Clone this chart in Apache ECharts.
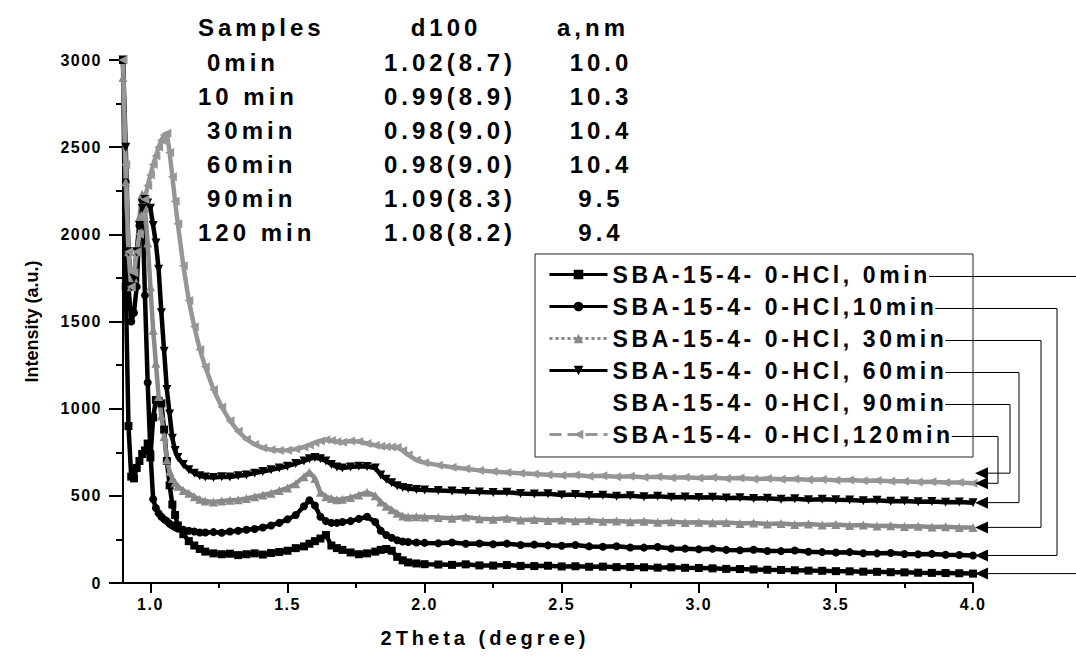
<!DOCTYPE html>
<html><head><meta charset="utf-8">
<script src="https://cdn.jsdelivr.net/npm/echarts@6/dist/echarts.min.js"></script>
<style>html,body{margin:0;padding:0;background:#fff}#main{width:1076px;height:658px}</style>
</head><body><div id="main"></div>
<script>
// ---------------- data ----------------
const twoTheta = [0.90,0.91,0.92,0.93,0.94,0.95,0.96,0.97,0.98,0.99,1.00,1.01,1.02,1.03,1.04,1.05,1.06,1.07,1.08,1.09,1.10,
  1.12,1.14,1.16,1.18,1.20,1.23,1.26,1.29,1.32,1.35,1.38,1.41,1.44,1.47,1.50,1.53,1.56,1.58,1.60,1.62,1.64,1.66,1.68,1.70,
  1.73,1.76,1.79,1.82,1.84,1.86,1.88,1.90,1.92,1.94,1.97,2.00,
  2.05,2.10,2.15,2.20,2.25,2.30,2.35,2.40,2.45,2.50,2.55,2.60,2.65,2.70,2.75,2.80,2.85,2.90,2.95,3.00,
  3.05,3.10,3.15,3.20,3.25,3.30,3.35,3.40,3.45,3.50,3.55,3.60,3.65,3.70,3.75,3.80,3.85,3.90,3.95,4.00];

const seriesNames = ['SBA-15-4- 0-HCl, 0min','SBA-15-4- 0-HCl,10min','SBA-15-4- 0-HCl, 30min',
  'SBA-15-4- 0-HCl, 60min','SBA-15-4- 0-HCl, 90min','SBA-15-4- 0-HCl,120min'];

const int0min = [3000,1700,900,610,600,660,700,740,760,800,720,950,1050,1045,1030,880,700,560,450,390,330,280,240,215,195,180,170,165,168,160,165,170,163,172,178,185,200,210,225,240,255,275,215,200,190,175,165,170,180,190,195,185,150,130,118,112,108,
  106,104,107,101,100,103,98,97,99,95,96,93,94,91,92,90,88,90,87,86,84,81,80,78,76,75,73,71,70,68,67,65,64,62,61,59,58,57,56,54];
const int10min = [3000,2300,1700,1500,1550,1700,2050,2200,1650,1150,750,480,430,400,380,365,355,340,330,320,312,305,300,295,290,290,292,288,295,300,305,310,318,330,345,365,390,440,475,445,380,355,345,345,350,355,368,380,350,300,275,260,245,238,235,232,230,
  228,232,225,227,222,226,218,220,216,214,218,210,208,211,204,203,206,198,197,194,196,190,188,191,184,183,186,179,177,175,177,171,170,172,166,165,167,162,161,158];
const int30min = [2900,2300,1900,1700,1750,1900,2100,2230,2150,1950,1700,1450,1260,1070,960,840,705,640,600,575,555,530,515,495,480,470,465,470,475,478,485,495,505,515,530,545,570,610,635,600,520,495,485,478,480,490,505,520,500,465,440,420,400,385,378,380,378,
  376,372,378,368,366,371,362,364,359,361,357,360,354,356,351,354,349,352,347,349,345,347,342,344,339,341,336,338,333,335,330,332,327,329,324,326,321,323,318,319];
const int60min = [3000,2500,1900,1700,1750,1900,2050,2150,2200,2180,2150,2050,1950,1800,1550,1330,1110,970,830,760,720,680,650,630,615,608,605,610,608,615,620,630,640,650,660,670,685,700,712,720,712,700,680,665,660,665,670,668,660,620,595,575,558,548,542,536,533,
  531,528,525,522,519,521,514,510,512,505,507,502,504,498,500,495,497,492,494,490,492,487,489,484,486,481,483,478,480,477,476,472,474,469,471,466,468,463,465,461];
const int90min = [];
const int120min = [3000,2400,1900,1700,1780,1900,2000,2100,2200,2280,2340,2400,2450,2500,2540,2570,2580,2470,2330,2190,2060,1820,1620,1470,1340,1240,1110,1010,930,870,825,795,775,765,760,762,768,780,792,805,815,822,818,810,808,815,812,800,790,785,782,780,778,760,735,705,690,
  676,664,655,646,640,634,629,625,621,617,619,613,615,610,612,607,609,604,606,603,605,600,602,597,599,595,597,592,594,590,591,586,588,583,584,579,581,576,577,572];
const arrow90minValue = 630;

const xTickValues = [1.0,1.5,2.0,2.5,3.0,3.5,4.0];
const xMinorTickValues = [1.25,1.75,2.25,2.75,3.25,3.75];

const tableHeader = ['Samples','d100','a,nm'];
const tableSamples = ['0min','10 min','30min','60min','90min','120 min'];
const tableD100 = ['1.02(8.7)','0.99(8.9)','0.98(9.0)','0.98(9.0)','1.09(8.3)','1.08(8.2)'];
const tableA = ['10.0','10.3','10.4','10.4','9.5','9.4'];

// ---------------- chart ----------------
const FONT = '"Liberation Sans", Arial, sans-serif';
const pairs = ys => ys.map((v, i) => [twoTheta[i], v]);
const allSeriesValues = [int0min, int10min, int30min, int60min, int90min, int120min];

const styles = [
  {color:'#000', symbol:'rect', symbolSize:8, rot:0},
  {color:'#000', symbol:'circle', symbolSize:8, rot:0},
  {color:'#8a8a8a', symbol:'triangle', symbolSize:9, rot:0},
  {color:'#000', symbol:'triangle', symbolSize:9, rot:180},
  {color:'rgba(0,0,0,0)', symbol:'none', symbolSize:0, rot:0},
  {color:'#969696', symbol:'triangle', symbolSize:9, rot:90}
];

const series = seriesNames.map((name, k) => ({
  name, type:'line', xAxisIndex:0, yAxisIndex:0,
  data: pairs(allSeriesValues[k]),
  symbol: styles[k].symbol, symbolSize: styles[k].symbolSize, symbolRotate: styles[k].rot,
  showSymbol: styles[k].symbol !== 'none',
  itemStyle:{color: styles[k].color},
  lineStyle:{color: styles[k].color, width:4.5},
  emphasis:{disabled:true}, silent:true, clip:true
}));

const legendData = seriesNames.map((name, k) => {
  const d = {name, lineStyle:{width:3}};
  if (k === 2) d.lineStyle = {width:3, type:'dotted'};
  if (k === 5) d.lineStyle = {width:3, type:'dashed'};
  return d;
});

const option = {
  animation:false,
  backgroundColor:'#fff',
  grid:{left:123, right:103, top:60, bottom:75},
  legend:{
    orient:'vertical', left:543, top:258, itemGap:9, itemWidth:58, itemHeight:12,
    selectedMode:false, data: legendData,
    textStyle:{fontFamily:FONT, fontWeight:'bold', fontSize:23, color:'#000'}
  },
  xAxis:[{
    type:'value', min:0.9, max:4.0,
    name:'2Theta (degree)', nameLocation:'middle', nameGap:45,
    nameTextStyle:{fontFamily:FONT, fontWeight:'bold', fontSize:20, color:'#000', padding:[0,126,0,0]},
    axisLine:{show:true, onZero:false, lineStyle:{color:'#000', width:2}},
    axisTick:{show:true, length:10, lineStyle:{color:'#000', width:2}, customValues:xTickValues},
    axisLabel:{customValues:xTickValues, formatter:v=>Number(v).toFixed(1), margin:13,
      fontFamily:FONT, fontWeight:'bold', fontSize:16, color:'#000'},
    splitLine:{show:false}
  },{
    type:'value', min:0.9, max:4.0, position:'bottom',
    axisLine:{show:false},
    axisTick:{show:true, length:5, lineStyle:{color:'#000', width:2}, customValues:xMinorTickValues},
    axisLabel:{show:false}, splitLine:{show:false}
  }],
  yAxis:{
    type:'value', min:0, max:3000, interval:500,
    name:'Intensity (a.u.)', nameLocation:'middle', nameGap:82,
    nameTextStyle:{fontFamily:FONT, fontWeight:'bold', fontSize:18, color:'#000'},
    axisLine:{show:true, onZero:false, lineStyle:{color:'#000', width:2}},
    axisTick:{show:true, length:14, lineStyle:{color:'#000', width:2}},
    minorTick:{show:true, splitNumber:2, length:7, lineStyle:{color:'#000', width:2}},
    axisLabel:{margin:21, formatter:v=>String(v), fontFamily:FONT, fontWeight:'bold', fontSize:16, color:'#000'},
    splitLine:{show:false}, minorSplitLine:{show:false}
  },
  series
};

const dom = document.getElementById('main');
const chart = echarts.init(dom, null, {renderer:'svg', width:1076, height:658});
chart.setOption(option);

const spacingBySize = {16:1.5, 18:0, 20:4, 23:3.6, 24:4};
function applySpacing(){
  dom.querySelectorAll('svg text').forEach(t => {
    const fs = Math.round(parseFloat(getComputedStyle(t).fontSize));
    const ls = spacingBySize[fs] !== undefined ? spacingBySize[fs] : 0;
    t.style.letterSpacing = ls + 'px';
  });
}
applySpacing();

// ---------- annotations (table, legend box, leader lines) ----------
const graphics = [];
const tFont = 'bold 24px ' + FONT;
const headerX = [198, 446, 593];
const headerAlign = ['left','center','center'];
tableHeader.forEach((s, i) => graphics.push({type:'text', x:headerX[i], y:27,
  style:{text:s, font:tFont, fill:'#000', textAlign:headerAlign[i], textVerticalAlign:'middle'}}));
const rowY = [62, 96, 130, 164, 198, 232];
const col1X = [207, 198, 207, 207, 207, 198];
tableSamples.forEach((s, r) => {
  graphics.push({type:'text', x:col1X[r], y:rowY[r], style:{text:s, font:tFont, fill:'#000', textAlign:'left', textVerticalAlign:'middle'}});
  graphics.push({type:'text', x:450, y:rowY[r], style:{text:tableD100[r], font:tFont, fill:'#000', textAlign:'center', textVerticalAlign:'middle'}});
  graphics.push({type:'text', x:601, y:rowY[r], style:{text:tableA[r], font:tFont, fill:'#000', textAlign:'center', textVerticalAlign:'middle'}});
});
graphics.push({type:'rect', shape:{x:535, y:254, width:438, height:203}, style:{fill:'none', stroke:'#222', lineWidth:1}, z:1});

// leader lines from legend labels to curve ends
const domRect = dom.getBoundingClientRect();
const labelEls = Array.from(dom.querySelectorAll('svg text')).filter(t => t.textContent.indexOf('SBA') === 0);
const labelInfo = seriesNames.map(n => {
  const el = labelEls.find(t => t.textContent === n);
  if (!el) return null;
  const r = el.getBoundingClientRect();
  return {right: r.right - domRect.left, cy: (r.top + r.bottom) / 2 - domRect.top};
});
const elbowX = [1090, 1057, 1041, 1019, 1010, 998];
const arrowValues = allSeriesValues.map((ys, k) => ys.length ? ys[ys.length - 1] : arrow90minValue);
const tip = chart.convertToPixel({xAxisIndex:0, yAxisIndex:0}, [4.0, 0]);
const tipX = tip[0] + 2;
seriesNames.forEach((n, k) => {
  const info = labelInfo[k];
  if (!info) return;
  const ay = chart.convertToPixel({xAxisIndex:0, yAxisIndex:0}, [4.0, arrowValues[k]])[1];
  const y0 = info.cy + 2;
  graphics.push({type:'polyline', z:5, shape:{points:[[info.right - 2, y0],[elbowX[k], y0],[elbowX[k], ay],[tipX + 11, ay]]},
    style:{stroke:'#000', lineWidth:1, fill:null}});
  graphics.push({type:'polygon', z:5, shape:{points:[[tipX, ay],[tipX + 13, ay - 6],[tipX + 13, ay + 6]]},
    style:{fill:'#000', stroke:null}});
});
chart.setOption({graphic: graphics});
applySpacing();
</script>
</body></html>
